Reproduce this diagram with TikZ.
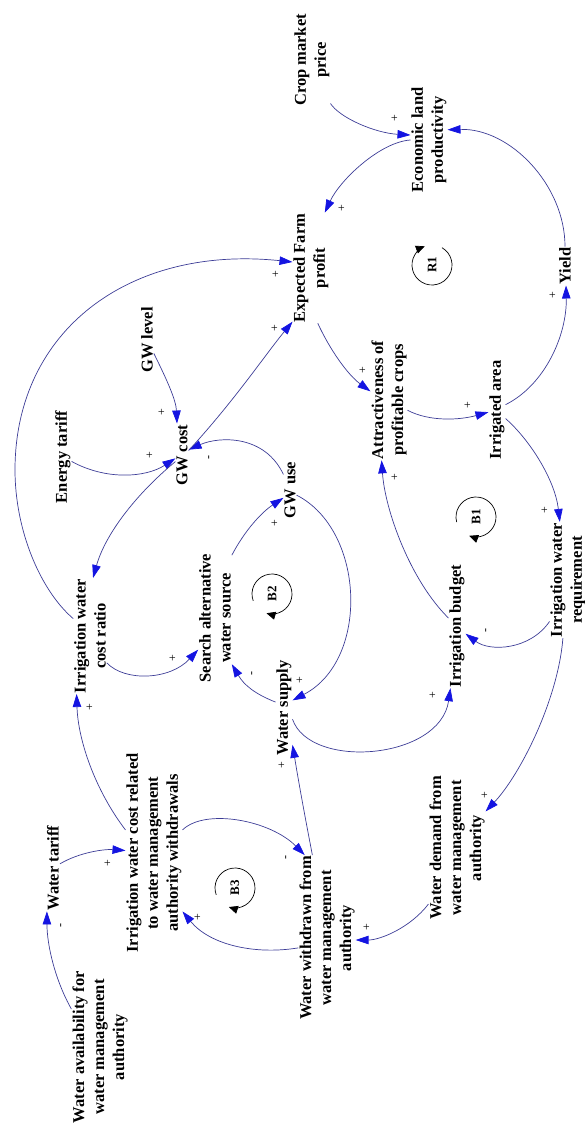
\documentclass[tikz,border=0pt]{standalone}
\usepackage{fontspec}
\setmainfont{Liberation Serif}
\usetikzlibrary{arrows.meta}
\definecolor{lnk}{RGB}{60,60,150}
\definecolor{tipc}{RGB}{20,20,225}
\tikzset{
  var/.style={rotate=90, align=center, font=\bfseries\fontsize{16.5}{20}\selectfont, inner sep=1pt, outer sep=0pt},
  lk/.style={draw=lnk, line width=0.7pt, -{Triangle[length=13pt,width=8.5pt,color=tipc]}},
  pol/.style={rotate=90, font=\fontsize{12}{12}\selectfont, inner sep=0pt},
  loopc/.style={draw=black, line width=0.7pt, -{Triangle[length=9pt,width=8pt]}},
  looplbl/.style={rotate=90, font=\bfseries\fontsize{13}{13}\selectfont, inner sep=0pt}
}
\begin{document}
\begin{tikzpicture}[x=1pt,y=-1pt]
\useasboundingbox (0,0) rectangle (585,1129);
% variables
\node[var] (crop) at (312,60) {Crop market\\price};
\node[var] (econ) at (429,140) {Economic land\\productivity};
\node[var] (exp) at (311,268) {Expected Farm\\profit};
\node[var] (yield) at (565,266) {Yield};
\node[var] (gwlevel) at (147,340) {GW level};
\node[var] (energy) at (63,457) {Energy tariff};
\node[var] (gwcost) at (182,455) {GW cost};
\node[var] (gwuse) at (290,490) {GW use};
\node[var] (att) at (389,400) {Attractiveness of\\profitable crops};
\node[var] (irrarea) at (497,410) {Irrigated area};
\node[var] (irrreq) at (568,580) {Irrigation water\\requirement};
\node[var] (budget) at (457,626) {Irrigation budget};
\node[var] (search) at (215,618) {Search alternative\\water source};
\node[var] (ratio) at (90,636) {Irrigation water\\cost ratio};
\node[var] (supply) at (284,708) {Water supply};
\node[var] (costrel) at (154,853) {Irrigation water cost related\\to water management\\authority withdrawals};
\node[var] (tariff) at (53,868) {Water tariff};
\node[var] (avail) at (100,1047) {Water availability for\\water management\\authority};
\node[var] (withdrawn) at (327,938) {Water withdrawn from\\water management\\authority};
\node[var] (demand) at (457,848) {Water demand from\\water management\\authority};
% links
\draw[lk] (crop.203) .. controls (340,118) and (375,133) .. (econ.75);
\draw[lk] (econ.90) .. controls (380,142) and (340,180) .. (exp.346);
\draw[lk] (yield.0) .. controls (565,185) and (510,128) .. (econ.299);
\draw[lk] (irrarea.302) .. controls (545,385) and (567,335) .. (yield.183);
\draw[lk] (exp.187) .. controls (330,350) and (348,375) .. (att.65);
\draw[lk] (att.241) .. controls (430,422) and (460,420) .. (irrarea.104);
\draw[lk] (irrarea.225) .. controls (530,440) and (555,480) .. (irrreq.8);
\draw[lk] (irrreq.156) .. controls (530,650) and (490,652) .. (budget.228);
\draw[lk] (budget.47) .. controls (410,580) and (385,510) .. (att.173);
\draw[lk] (supply.217) .. controls (310,770) and (440,760) .. (budget.174);
\draw[lk] (gwuse.232) .. controls (365,530) and (370,660) .. (supply.312);
\draw[lk] (supply.55) .. controls (255,694) and (244,685) .. (search.200);
\draw[lk] (search.345) .. controls (245,530) and (262,512) .. (gwuse.140);
\draw[lk] (gwuse.23) .. controls (265,435) and (220,436) .. (gwcost.309);
\draw[lk] (gwlevel.207) .. controls (167,380) and (176,400) .. (gwcost.9);
\draw[lk] (energy.243) .. controls (105,480) and (145,478) .. (gwcost.117);
\draw[lk] (gwcost.304) .. controls (235,400) and (265,355) .. (exp.161);
\draw[lk] (gwcost.135) .. controls (135,495) and (105,535) .. (ratio.357);
\draw[lk] (ratio.44) .. controls (40,590) and (15,530) .. (15,470) .. controls (15,330) and (130,245) .. (exp.72);
\draw[lk] (ratio.212) .. controls (125,682) and (170,680) .. (search.152);
\draw[lk] (costrel.51) .. controls (95,790) and (78,740) .. (ratio.167);
\draw[lk] (tariff.301) .. controls (80,852) and (105,849) .. (costrel.85);
\draw[lk] (avail.37) .. controls (55,980) and (47,945) .. (tariff.172);
\draw[lk] (costrel.309) .. controls (205,808) and (270,820) .. (withdrawn.15);
\draw[lk] (withdrawn.109) .. controls (255,955) and (210,945) .. (costrel.206);
\draw[lk] (withdrawn.10) .. controls (306,822) and (300,790) .. (supply.193);
\draw[lk] (demand.153) .. controls (410,928) and (380,940) .. (withdrawn.266);
\draw[lk] (irrreq.175) .. controls (558,700) and (520,775) .. (demand.322);
% polarities
\node[pol] (p1) at (395,118) {+};
\node[pol] (p2) at (342,208) {+};
\node[pol] (p4) at (553,295) {+};
\node[pol] (p5) at (363,370) {+};
\node[pol] (p6) at (468,405) {+};
\node[pol] (p7) at (545,510) {+};
\node[pol] (p8) at (487,630) {-};
\node[pol] (p9) at (395,477) {+};
\node[pol] (p10) at (433,695) {+};
\node[pol] (p11) at (300,680) {+};
\node[pol] (p12) at (253,673) {-};
\node[pol] (p13) at (275,523) {+};
\node[pol] (p14) at (210,457) {-};
\node[pol] (p15) at (162,412) {+};
\node[pol] (p16) at (150,455) {+};
\node[pol] (p17) at (275,328) {+};
\node[pol] (p19) at (276,274) {+};
\node[pol] (p20) at (173,658) {+};
\node[pol] (p21) at (90,707) {+};
\node[pol] (p22) at (108,863) {+};
\node[pol] (p23) at (62,925) {-};
\node[pol] (p24) at (287,857) {-};
\node[pol] (p25) at (198,917) {+};
\node[pol] (p26) at (282,765) {+};
\node[pol] (p27) at (367,927) {+};
\node[pol] (p28) at (485,795) {+};
% loop markers
\node[looplbl] (R1) at (432,265) {R1};
\draw[loopc] (R1.center) ++(300:20) arc[start angle=300, end angle=609, radius=20];
\node[looplbl] (B1) at (476,517) {B1};
\draw[loopc] (B1.center) ++(165:20) arc[start angle=165, end angle=470, radius=20];
\node[looplbl] (B2) at (272,594) {B2};
\draw[loopc] (B2.center) ++(160:20) arc[start angle=160, end angle=466, radius=20];
\node[looplbl] (B3) at (235,888) {B3};
\draw[loopc] (B3.center) ++(160:20) arc[start angle=160, end angle=468, radius=20];
\end{tikzpicture}
\end{document}
